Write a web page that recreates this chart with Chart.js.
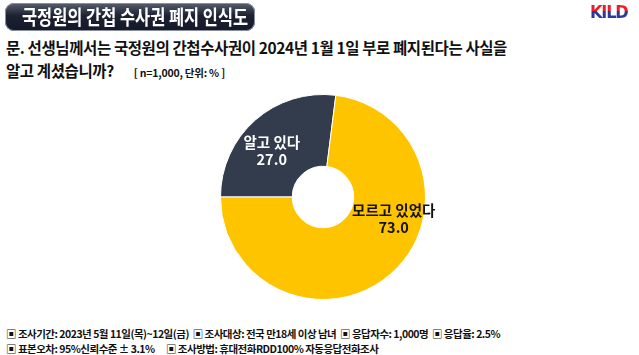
<!DOCTYPE html>
<html>
<head>
<meta charset="utf-8">
<script src="https://cdn.jsdelivr.net/npm/chart.js@4"></script>
<style>
  body { margin: 0; width: 639px; height: 355px; background: #fff; position: relative; overflow: hidden;
         font-family: "Noto Sans CJK KR", "Noto Sans", sans-serif; }
  .title { position: absolute; left: 5px; top: 3px; width: 250px; height: 28px; border-radius: 9px;
           background: linear-gradient(#5a5f6e, #1d2233 45%, #14182a); box-shadow: inset 0 0 0 1px #8a8f9c;
           color: #fff; font-weight: bold; font-size: 20px; line-height: 28px; padding-left: 17px; box-sizing: border-box;
           white-space: nowrap; overflow: hidden; }
  .title span { display: inline-block; transform: scaleX(0.82); transform-origin: left center; }
  .logo { position: absolute; left: 590px; top: 1px; font-family: "DejaVu Sans Condensed", "DejaVu Sans", sans-serif;
          font-weight: bold; font-size: 18px; letter-spacing: -1.2px;
          background: linear-gradient(#e8202a 50%, #2b3a9a 50%); -webkit-background-clip: text; background-clip: text; color: transparent; }
  .q { position: absolute; left: 6px; top: 36px; font-size: 15.5px; font-weight: bold; line-height: 23px; color: #111;
       letter-spacing: -0.4px; white-space: nowrap; }
  .q small { font-size: 10.5px; margin-left: 20px; letter-spacing: -0.2px; }
  .foot { position: absolute; left: 6px; top: 326px; font-size: 10.5px; font-weight: bold; line-height: 15px; color: #111;
          white-space: pre; letter-spacing: -0.5px; }
  #wrap { position: absolute; left: 173px; top: 87px; width: 300px; height: 220px; }
</style>
</head>
<body>
<div class="title"><span>국정원의 간첩 수사권 폐지 인식도</span></div>
<div class="logo">KILD</div>
<div class="q">문. 선생님께서는 국정원의 간첩수사권이 2024년 1월 1일 부로 폐지된다는 사실을<br>알고 계셨습니까?<small>[ n=1,000, 단위: % ]</small></div>
<div class="foot">▣ 조사기간: 2023년 5월 11일(목)~12일(금)  ▣ 조사대상: 전국 만18세 이상 남녀  ▣ 응답자수: 1,000명  ▣ 응답율: 2.5%
▣ 표본오차: 95%신뢰수준 ± 3.1%      ▣ 조사방법: 휴대전화RDD100% 자동응답전화조사</div>
<div id="wrap"><canvas id="chartAwareness"></canvas></div>
<script>
// 응답 데이터
const labels = ['알고 있다', '모르고 있었다'];
const values = [27.0, 73.0];
const colors = ['#323c4c', '#ffc400'];
const labelColors = ['#ffffff', '#111111'];

// 라벨 위치 (반지름 대비 오프셋)
const labelOffsets = [[-0.5, -0.45], [0.69, 0.21]];

const sliceLabels = {
  id: 'sliceLabels',
  afterDatasetsDraw(chart) {
    const ctx = chart.ctx;
    const meta = chart.getDatasetMeta(0);
    ctx.save();
    ctx.textAlign = 'center';
    ctx.textBaseline = 'middle';
    ctx.font = 'bold 14.5px "Noto Sans CJK KR", sans-serif';
    meta.data.forEach((arc, i) => {
      const r = arc.outerRadius;
      const x = arc.x + labelOffsets[i][0] * r;
      const y = arc.y + labelOffsets[i][1] * r;
      ctx.fillStyle = labelColors[i];
      ctx.fillText(labels[i], x, y - 8);
      ctx.fillText(values[i].toFixed(1), x, y + 9);
    });
    ctx.restore();
  }
};

new Chart(document.getElementById('chartAwareness'), {
  type: 'doughnut',
  data: {
    labels: labels,
    datasets: [{
      data: values,
      backgroundColor: colors,
      borderColor: '#ffffff',
      borderWidth: 1
    }]
  },
  options: {
    responsive: true,
    maintainAspectRatio: false,
    animation: false,
    rotation: 270,
    cutout: '30%',
    layout: { padding: 7 },
    plugins: {
      legend: { display: false },
      tooltip: { enabled: false }
    }
  },
  plugins: [sliceLabels]
});
</script>
</body>
</html>
